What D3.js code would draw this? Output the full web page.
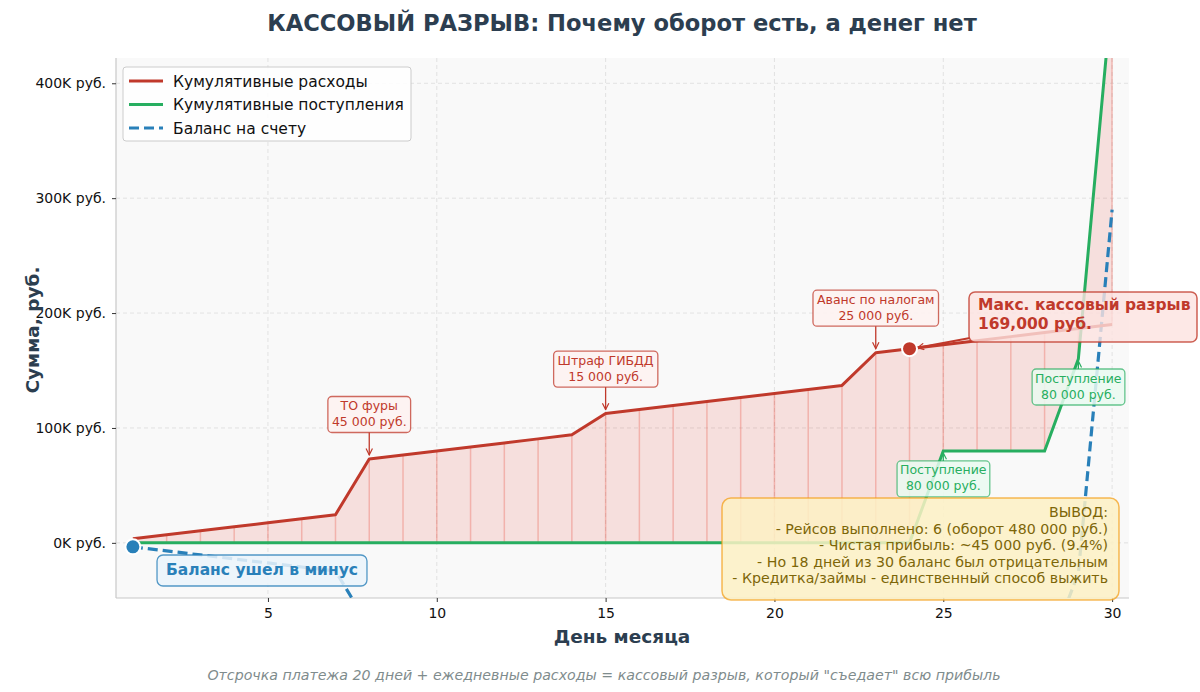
<!DOCTYPE html>
<html>
<head>
<meta charset="utf-8">
<script src="https://cdn.jsdelivr.net/npm/d3@7"></script>
<style>
  body { margin: 0; background: #fff; }
  svg { font-family: "DejaVu Sans", sans-serif; }
</style>
</head>
<body>
<div id="chart"></div>
<script>
// day of month
var days = [1,2,3,4,5,6,7,8,9,10,11,12,13,14,15,16,17,18,19,20,21,22,23,24,25,26,27,28,29,30];

// cumulative expenses, rub.
var expenses = [3500,7000,10500,14000,17500,21000,24500,73000,76500,80000,83500,87000,90500,94000,
    112500,116000,119500,123000,126500,130000,133500,137000,165500,169000,172500,176000,179500,183000,186500,190000];

// cumulative income, rub.
var income = [0,0,0,0,0,0,0,0,0,0,0,0,0,0,0,0,0,0,0,0,0,0,0,0,80000,80000,80000,80000,160000,480000];

// account balance, rub.
var balance = [-3500,-7000,-10500,-14000,-17500,-21000,-24500,-73000,-76500,-80000,-83500,-87000,-90500,-94000,
    -112500,-116000,-119500,-123000,-126500,-130000,-133500,-137000,-165500,-169000,-92500,-96000,-99500,-103000,-26500,290000];

var xTicks = [5,10,15,20,25,30];
var yTicks = [0,100000,200000,300000,400000];

var expenseNotes = [
    {day: 8, lines: ["ТО фуры", "45 000 руб."]},
    {day: 15, lines: ["Штраф ГИБДД", "15 000 руб."]},
    {day: 23, lines: ["Аванс по налогам", "25 000 руб."]}
];
var incomeNotes = [
    {day: 25, lines: ["Поступление", "80 000 руб."], dy: 28},
    {day: 29, lines: ["Поступление", "80 000 руб."], dy: 28}
];
var maxGapDay = 24;
var summary = [
    "ВЫВОД:",
    "- Рейсов выполнено: 6 (оборот 480 000 руб.)",
    "- Чистая прибыль: ~45 000 руб. (9.4%)",
    "- Но 18 дней из 30 баланс был отрицательным",
    "- Кредитка/займы - единственный способ выжить"
];

var colors = {exp: "#c0392b", inc: "#27ae60", bal: "#2980b9", dark: "#2c3e50"};

var W = 1200, H = 692;
var plot = {left: 116, right: 1129, top: 58, bottom: 598};

var svg = d3.select("#chart").append("svg").attr("width", W).attr("height", H);

var x = d3.scaleLinear().domain([0.5, 30.5]).range([plot.left, plot.right]);
var y = d3.scaleLinear().domain([-48000, 422000]).range([plot.bottom, plot.top]);

svg.append("defs").append("clipPath").attr("id", "clip")
    .append("rect").attr("x", plot.left).attr("y", plot.top)
    .attr("width", plot.right - plot.left).attr("height", plot.bottom - plot.top);

var defs = svg.select("defs");
function addArrow(id, color) {
    defs.append("marker").attr("id", id)
        .attr("viewBox", "0 0 10 10").attr("refX", 9).attr("refY", 5)
        .attr("markerWidth", 8).attr("markerHeight", 8).attr("orient", "auto-start-reverse")
        .attr("markerUnits", "userSpaceOnUse")
        .append("path").attr("d", "M1,1 L9,5 L1,9").attr("fill", "none")
        .attr("stroke", color).attr("stroke-width", 1.5);
}
addArrow("arR", colors.exp);
addArrow("arG", colors.inc);
addArrow("arB", colors.bal);

// background
svg.append("rect").attr("x", plot.left).attr("y", plot.top)
    .attr("width", plot.right - plot.left).attr("height", plot.bottom - plot.top)
    .attr("fill", "#f9f9f9");

// grid
svg.append("g").selectAll("line").data(yTicks).enter().append("line")
    .attr("x1", plot.left).attr("x2", plot.right)
    .attr("y1", d => y(d)).attr("y2", d => y(d))
    .attr("stroke", "#dcdcdc").attr("stroke-dasharray", "4,3").attr("stroke-width", 0.8);
svg.append("g").selectAll("line").data(xTicks).enter().append("line")
    .attr("y1", plot.top).attr("y2", plot.bottom)
    .attr("x1", d => x(d)).attr("x2", d => x(d))
    .attr("stroke", "#dcdcdc").attr("stroke-dasharray", "4,3").attr("stroke-width", 0.8);

// axes
var xAxis = svg.append("g").attr("transform", `translate(0,${plot.bottom})`)
    .call(d3.axisBottom(x).tickValues(xTicks).tickSize(4).tickPadding(6));
var yAxis = svg.append("g").attr("transform", `translate(${plot.left},0)`)
    .call(d3.axisLeft(y).tickValues(yTicks).tickSize(4).tickPadding(6)
        .tickFormat(d => (d / 1000) + "K руб."));
[xAxis, yAxis].forEach(a => {
    a.select(".domain").attr("stroke", "#c8c8c8").attr("stroke-width", 1.2);
    a.selectAll(".tick line").attr("stroke", "#333");
    a.selectAll("text").attr("font-size", 14).attr("fill", "#111").attr("font-family", "DejaVu Sans");
});
xAxis.select(".domain").attr("d", `M${plot.left},0H${plot.right}`);
yAxis.select(".domain").attr("d", `M0,${plot.top}V${plot.bottom}`);

var g = svg.append("g").attr("clip-path", "url(#clip)");

// gap fill
var area = d3.area()
    .x((d, i) => x(days[i]))
    .y0((d, i) => y(income[i]))
    .y1((d, i) => y(expenses[i]));
g.append("path").datum(days).attr("d", area)
    .attr("fill", "#e74c3c").attr("fill-opacity", 0.15);

// daily gap lines
g.append("g").selectAll("line").data(days).enter().append("line")
    .attr("x1", d => x(d)).attr("x2", d => x(d))
    .attr("y1", (d, i) => y(income[i])).attr("y2", (d, i) => y(expenses[i]))
    .attr("stroke", "#e74c3c").attr("stroke-opacity", 0.3).attr("stroke-width", 1.5);

function line(vals) {
    return d3.line().x((d, i) => x(days[i])).y((d, i) => y(vals[i]))(days);
}
g.append("path").attr("d", line(income)).attr("fill", "none")
    .attr("stroke", colors.inc).attr("stroke-width", 3);
g.append("path").attr("d", line(balance)).attr("fill", "none")
    .attr("stroke", colors.bal).attr("stroke-width", 3.2).attr("stroke-dasharray", "10,5");
g.append("path").attr("d", line(expenses)).attr("fill", "none")
    .attr("stroke", colors.exp).attr("stroke-width", 3).attr("stroke-linejoin", "round");

// start of balance
g.append("circle").attr("cx", x(days[0])).attr("cy", y(balance[0])).attr("r", 7.5)
    .attr("fill", colors.bal).attr("stroke", "#fff").attr("stroke-width", 2);

// annotation helper
function noteBox(cx, top, lines, opt) {
    var grp = svg.append("g");
    var t = grp.append("text").attr("text-anchor", opt.anchor || "middle")
        .attr("font-size", opt.size).attr("font-weight", opt.weight || "normal")
        .attr("fill", opt.color);
    lines.forEach((l, i) => {
        t.append("tspan").attr("x", cx).attr("y", top + opt.pad + opt.size * 0.8 + i * opt.lh).text(l);
    });
    var bb = t.node().getBBox();
    var bx = opt.boxX != null ? opt.boxX : bb.x - opt.padX;
    var bw = opt.boxW != null ? opt.boxW : bb.width + 2 * opt.padX;
    var bh = opt.boxH != null ? opt.boxH : lines.length * opt.lh + 2 * opt.pad - (opt.lh - opt.size * 1.15);
    grp.insert("rect", "text").attr("x", bx).attr("y", top)
        .attr("width", bw).attr("height", bh).attr("rx", opt.rx || 4)
        .attr("fill", opt.fill).attr("fill-opacity", opt.fillOpacity || 0.9)
        .attr("stroke", opt.stroke).attr("stroke-opacity", opt.strokeOpacity || 0.8)
        .attr("stroke-width", opt.sw || 1.3);
    return {x: bx, y: top, w: bw, h: bh};
}

// expense notes
expenseNotes.forEach(n => {
    var px = x(n.day), py = y(expenses[n.day - 1]);
    var b = noteBox(px, py - 62.5, n.lines, {size: 12.5, lh: 16, pad: 3.5, padX: 4, color: colors.exp,
        fill: "#fdf2f1", stroke: colors.exp, strokeOpacity: 0.75, boxH: 36});
    svg.append("line").attr("x1", px).attr("y1", b.y + b.h).attr("x2", px).attr("y2", py - 4)
        .attr("stroke", colors.exp).attr("stroke-width", 1.3).attr("marker-end", "url(#arR)");
});

// income notes
incomeNotes.forEach(n => {
    var px = x(n.day), py = y(income[n.day - 1]);
    var b = noteBox(px, py + n.dy - 18, n.lines, {size: 12.5, lh: 16, pad: 3.5, padX: 3, color: colors.inc,
        fill: "#eafaf1", stroke: colors.inc, strokeOpacity: 0.7, fillOpacity: 0.85, boxH: 36});
    svg.append("line").attr("x1", px).attr("y1", b.y).attr("x2", px).attr("y2", py + 2)
        .attr("stroke", colors.inc).attr("stroke-width", 1.3).attr("marker-end", "url(#arG)");
});

// max gap
var mx = x(maxGapDay), my = y(expenses[maxGapDay - 1]);
svg.append("line").attr("x1", 970).attr("y1", 338).attr("x2", mx + 8).attr("y2", my - 1)
    .attr("stroke", colors.exp).attr("stroke-width", 2).attr("marker-end", "url(#arR)");
noteBox(978, 292, ["Макс. кассовый разрыв", "169,000 руб."], {size: 15.5, lh: 19, pad: 6, padX: 8,
    anchor: "start", weight: "bold", color: colors.exp, boxX: 969, boxW: 228, boxH: 50,
    fill: "#fde2e0", fillOpacity: 0.8, stroke: colors.exp, rx: 6, sw: 1.5});
svg.append("circle").attr("cx", mx).attr("cy", my).attr("r", 7.5)
    .attr("fill", colors.exp).attr("stroke", "#fff").attr("stroke-width", 2);

// balance note
noteBox(262, 555, ["Баланс ушел в минус"], {size: 15.5, lh: 18, pad: 7.5, padX: 9, weight: "bold",
    color: colors.bal, fill: "#ebf5fb", fillOpacity: 0.85, stroke: colors.bal, strokeOpacity: 0.8, rx: 6,
    boxH: 31});

// summary
noteBox(1108, 498, summary, {size: 14.2, lh: 16.5, pad: 8, padX: 10, anchor: "end",
    color: "#7d6608", boxX: 722, boxW: 397, boxH: 102, fill: "#fdf1c4", fillOpacity: 0.85,
    stroke: "#f39c12", strokeOpacity: 0.7, rx: 9, sw: 1.5});

// legend
var leg = svg.append("g");
leg.append("rect").attr("x", 123).attr("y", 67).attr("width", 288).attr("height", 74).attr("rx", 3)
    .attr("fill", "#fff").attr("fill-opacity", 0.85).attr("stroke", "#ccc");
var legItems = [
    {label: "Кумулятивные расходы", color: colors.exp, dash: null},
    {label: "Кумулятивные поступления", color: colors.inc, dash: null},
    {label: "Баланс на счету", color: colors.bal, dash: "10,5"}
];
legItems.forEach((it, i) => {
    var ly = 81 + i * 23.5;
    leg.append("line").attr("x1", 129).attr("x2", 163).attr("y1", ly).attr("y2", ly)
        .attr("stroke", it.color).attr("stroke-width", 3).attr("stroke-dasharray", it.dash);
    leg.append("text").attr("x", 173).attr("y", ly + 5.5).attr("font-size", 15.5).attr("fill", "#111").text(it.label);
});

// titles
svg.append("text").attr("x", 622).attr("y", 31).attr("text-anchor", "middle")
    .attr("font-size", 22.6).attr("font-weight", "bold").attr("fill", colors.dark)
    .text("КАССОВЫЙ РАЗРЫВ: Почему оборот есть, а денег нет");
svg.append("text").attr("x", 622).attr("y", 643).attr("text-anchor", "middle")
    .attr("font-size", 18.5).attr("font-weight", "bold").attr("fill", colors.dark).text("День месяца");
svg.append("text").attr("transform", "translate(39,330) rotate(-90)").attr("text-anchor", "middle")
    .attr("font-size", 18.5).attr("font-weight", "bold").attr("fill", colors.dark).text("Сумма, руб.");
svg.append("text").attr("x", 604).attr("y", 680).attr("text-anchor", "middle")
    .attr("font-size", 14.2).attr("font-style", "italic").attr("fill", "#7f8c8d")
    .text("Отсрочка платежа 20 дней + ежедневные расходы = кассовый разрыв, который \"съедает\" всю прибыль");
</script>
</body>
</html>
